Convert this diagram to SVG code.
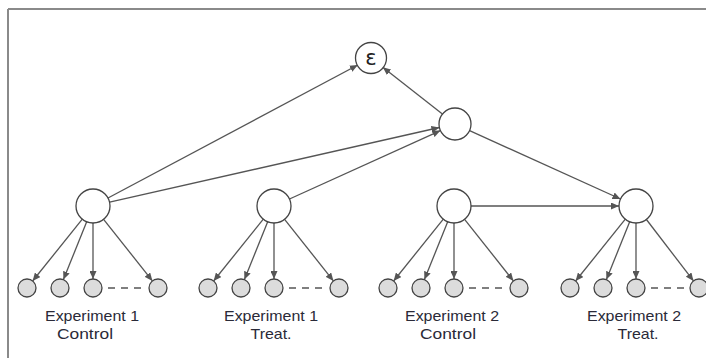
<svg xmlns="http://www.w3.org/2000/svg" width="706" height="358" viewBox="0 0 706 358">
<style>
.frame{stroke:#8a8a8a;stroke-width:2;fill:none}
.hub{fill:#fff;stroke:#444;stroke-width:1.3}
.leaf{fill:#dcdcdc;stroke:#444;stroke-width:1.3}
.e{stroke:#555;stroke-width:1.3;fill:none;marker-end:url(#arr)}
.dash{stroke:#555;stroke-width:1.3;stroke-dasharray:7,6;fill:none}
.lbl{font-family:"Liberation Sans",Arial,sans-serif;font-size:15px;fill:#2a2a38;text-anchor:middle}
.eps{font-family:"DejaVu Sans",sans-serif;font-size:21px;fill:#222;text-anchor:middle}
</style>
<defs>
<marker id="arr" markerWidth="9" markerHeight="7" refX="8" refY="3.5" orient="auto" markerUnits="userSpaceOnUse">
<path d="M0,0 L8,3.5 L0,7 Z" fill="#555"/>
</marker>
</defs>
<g id="frame">
<line class="frame" x1="8" y1="9" x2="706" y2="9"/>
<line class="frame" x1="8" y1="9" x2="8" y2="358"/>
</g>
<g id="connectors">
<line class="e" x1="108" y1="198" x2="357.8" y2="65"/>
<line class="e" x1="109.6" y1="202.2" x2="439.4" y2="127.5"/>
<line class="e" x1="289.5" y1="199" x2="440.4" y2="130.6"/>
<line class="e" x1="442.4" y1="114.1" x2="382.8" y2="67.3"/>
<line class="e" x1="469.6" y1="130.6" x2="620.5" y2="199"/>
<line class="e" x1="471" y1="206" x2="619" y2="206"/>
<line class="e" x1="82.3" y1="219.2" x2="32.6" y2="281"/>
<line class="e" x1="86.7" y1="221.8" x2="63.4" y2="279.6"/>
<line class="e" x1="93" y1="223" x2="93" y2="279"/>
<line class="e" x1="103.6" y1="219.3" x2="152.4" y2="280.9"/>
<line class="dash" x1="108" y1="288" x2="145" y2="288"/>
<line class="e" x1="263.3" y1="219.2" x2="213.6" y2="281"/>
<line class="e" x1="267.7" y1="221.8" x2="244.4" y2="279.6"/>
<line class="e" x1="274" y1="223" x2="274" y2="279"/>
<line class="e" x1="284.6" y1="219.3" x2="333.4" y2="280.9"/>
<line class="dash" x1="289" y1="288" x2="326" y2="288"/>
<line class="e" x1="443.3" y1="219.2" x2="393.6" y2="281"/>
<line class="e" x1="447.7" y1="221.8" x2="424.4" y2="279.6"/>
<line class="e" x1="454" y1="223" x2="454" y2="279"/>
<line class="e" x1="464.6" y1="219.3" x2="513.4" y2="280.9"/>
<line class="dash" x1="469" y1="288" x2="506" y2="288"/>
<line class="e" x1="625.3" y1="219.2" x2="575.6" y2="281"/>
<line class="e" x1="629.7" y1="221.8" x2="606.4" y2="279.6"/>
<line class="e" x1="636" y1="223" x2="636" y2="279"/>
<line class="e" x1="646.4" y1="219.5" x2="693.5" y2="280.9"/>
<line class="dash" x1="651" y1="288" x2="688" y2="288"/>
</g>
<g id="epsilon"><circle class="hub" cx="371" cy="58" r="15.5"/><text class="eps" x="371" y="64.5">ε</text></g>
<g id="mid"><circle class="hub" cx="455" cy="124" r="16"/></g>
<g id="hub1"><circle class="hub" cx="93" cy="206" r="17"/></g>
<g id="hub2"><circle class="hub" cx="274" cy="206" r="17"/></g>
<g id="hub3"><circle class="hub" cx="454" cy="206" r="17"/></g>
<g id="hub4"><circle class="hub" cx="636" cy="206" r="17"/></g>
<g id="leaves1">
<circle class="leaf" cx="27" cy="288" r="9"/><circle class="leaf" cx="60" cy="288" r="9"/><circle class="leaf" cx="93" cy="288" r="9"/><circle class="leaf" cx="158" cy="288" r="9"/>
</g>
<g id="leaves2">
<circle class="leaf" cx="208" cy="288" r="9"/><circle class="leaf" cx="241" cy="288" r="9"/><circle class="leaf" cx="274" cy="288" r="9"/><circle class="leaf" cx="339" cy="288" r="9"/>
</g>
<g id="leaves3">
<circle class="leaf" cx="388" cy="288" r="9"/><circle class="leaf" cx="421" cy="288" r="9"/><circle class="leaf" cx="454" cy="288" r="9"/><circle class="leaf" cx="519" cy="288" r="9"/>
</g>
<g id="leaves4">
<circle class="leaf" cx="570" cy="288" r="9"/><circle class="leaf" cx="603" cy="288" r="9"/><circle class="leaf" cx="636" cy="288" r="9"/><circle class="leaf" cx="699" cy="288" r="9"/>
</g>
<g id="label1"><text class="lbl" x="92" y="321" textLength="94" lengthAdjust="spacingAndGlyphs">Experiment 1</text><text class="lbl" x="85" y="339" textLength="56" lengthAdjust="spacingAndGlyphs">Control</text></g>
<g id="label2"><text class="lbl" x="271" y="321" textLength="94" lengthAdjust="spacingAndGlyphs">Experiment 1</text><text class="lbl" x="271" y="339" textLength="41" lengthAdjust="spacingAndGlyphs">Treat.</text></g>
<g id="label3"><text class="lbl" x="452" y="321" textLength="94" lengthAdjust="spacingAndGlyphs">Experiment 2</text><text class="lbl" x="448" y="339" textLength="56" lengthAdjust="spacingAndGlyphs">Control</text></g>
<g id="label4"><text class="lbl" x="634" y="321" textLength="94" lengthAdjust="spacingAndGlyphs">Experiment 2</text><text class="lbl" x="638" y="339" textLength="41" lengthAdjust="spacingAndGlyphs">Treat.</text></g>
</svg>
